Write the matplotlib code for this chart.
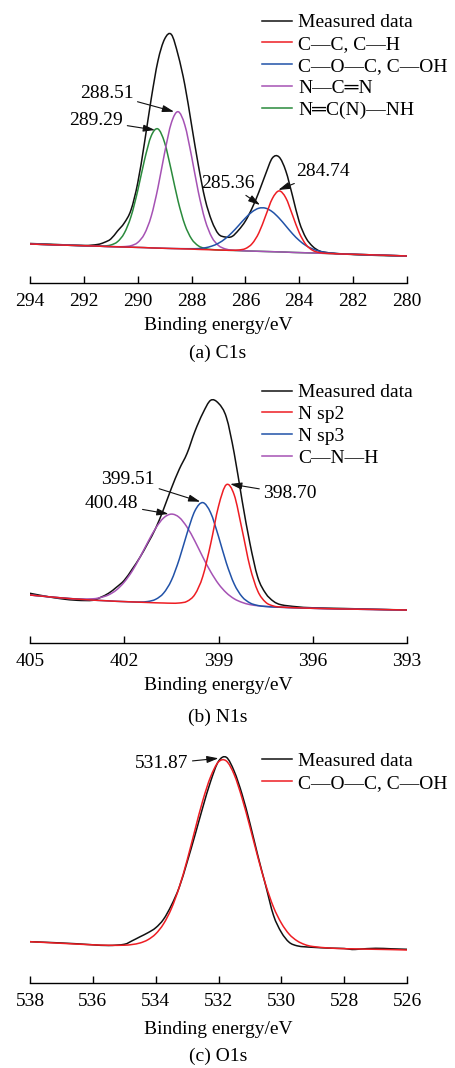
import matplotlib.pyplot as plt
from matplotlib.path import Path
from matplotlib.patches import PathPatch
from matplotlib.lines import Line2D

plt.rcParams['font.family'] = ['Liberation Serif', 'DejaVu Sans']
plt.rcParams['font.size'] = 14

# ---------------- (a) C1s ----------------
c1s_energy = [294, 293, 292, 291.5, 291.25, 291.0, 290.75, 290.5, 290.25, 290.0,
              289.75, 289.5, 289.25, 289.0, 288.75, 288.5, 288.25, 288.0, 287.75, 287.5,
              287.25, 287.0, 286.75, 286.5, 286.25, 286.0, 285.75, 285.5, 285.25, 285.0,
              284.75, 284.5, 284.25, 284.0, 283.75, 283.5, 283.25, 283.0, 282.75, 282.5,
              282.0, 281.0, 280.0]
c1s_measured = [39.5, 38.5, 37.5, 38.5, 40.5, 44, 52, 60, 73, 100,
                140, 184, 222, 244, 248.5, 228, 198, 158, 118, 84,
                62, 49, 46, 46.5, 53, 62, 75, 91, 109, 125,
                126, 112, 87, 61, 45, 36.5, 32, 30.5, 29.8, 29.2,
                28.5, 27.5, 27.0]
c1s_background = [39.0, 38.1, 37.3, 36.9, 36.6, 36.4, 36.2, 36.0, 35.8, 35.6,
                  35.4, 35.1, 34.9, 34.7, 34.5, 34.3, 34.1, 33.9, 33.6, 33.4,
                  33.2, 33.0, 32.8, 32.6, 32.4, 32.1, 31.9, 31.7, 31.5, 31.3,
                  31.1, 30.9, 30.6, 30.4, 30.2, 30.0, 29.8, 29.6, 29.4, 29.1,
                  28.7, 27.9, 27.0]
# fitted components (height above background)
c1s_cc = [0] * 23 + [0.1, 0.6, 2.3, 7.5, 18.5, 35.7, 53.1, 61.0, 54.2, 37.2,
                     19.7, 8.1, 2.6, 0.6, 0.1] + [0] * 5
c1s_coc = [0] * 15 + [0.1, 0.2, 0.4, 0.8, 1.8, 3.7, 6.8, 11.5, 17.8, 25.2,
                      32.9, 39.3, 43.1, 43.3, 39.9, 33.8, 26.2, 18.6, 12.1, 7.2,
                      4.0, 2.0, 0.9, 0.4, 0.2] + [0] * 3
c1s_ncn = [0] * 6 + [0.1, 0.4, 1.5, 4.9, 13.7, 31.5, 60.3, 95.6, 125.7, 137.0,
                     123.8, 92.8, 57.6, 29.7, 12.7, 4.5, 1.3, 0.3] + [0] * 19
c1s_ncnh = [0] * 3 + [0.1, 0.4, 1.6, 5.1, 13.8, 30.6, 56.7, 87.4, 111.9, 119.2,
                      105.6, 77.7, 47.5, 24.2, 10.2, 3.6, 1.1, 0.3] + [0] * 22

# ---------------- (b) N1s ----------------
n1s_energy = [405, 404.5, 404, 403.5, 403.0, 402.75, 402.5, 402.25, 402.0, 401.75,
              401.5, 401.25, 401.0, 400.75, 400.5, 400.25, 400.0, 399.75, 399.5, 399.25,
              399.0, 398.75, 398.5, 398.25, 398.0, 397.75, 397.5, 397.25, 397.0, 396.5,
              396.0, 395.0, 394.0, 393.0]
n1s_measured = [50, 47, 44.5, 43, 43, 46, 50, 56, 63, 74,
                86, 100, 115, 134, 155, 174, 190, 212, 230, 243,
                240, 226, 190, 143, 100, 66, 50, 42, 38.5, 36.5,
                35.5, 34.8, 34.0, 33.3]
n1s_background = [48.3, 46.8, 45.4, 44.2, 43.2, 42.8, 42.4, 42.0, 41.7, 41.4,
                  41.1, 40.8, 40.5, 40.3, 40.0, 39.8, 39.5, 39.3, 39.0, 38.7,
                  38.4, 38.1, 37.8, 37.5, 37.2, 36.9, 36.6, 36.3, 36.0, 35.5,
                  35.0, 34.3, 33.8, 33.3]
n1s_sp2 = [0] * 14 + [0.1, 0.5, 2.5, 9.7, 27.9, 60.6, 98.6, 120.5, 110.6, 76.2,
                      39.4, 15.3, 4.5, 1.0, 0.2] + [0] * 5
n1s_sp3 = [0] * 10 + [0.2, 1.0, 3.5, 9.8, 22.9, 44.2, 70.6, 93.2, 101.7, 91.8,
                      68.5, 42.2, 21.5, 9.1, 3.2, 0.9, 0.2] + [0] * 7
n1s_cnh = [0] * 3 + [0.2, 1.3, 3.0, 6.0, 11.3, 19.5, 30.7, 44.9, 60.3, 74.6,
                     85.0, 89.2, 86.1, 76.6, 62.8, 47.3, 32.9, 21.0, 12.4, 6.7,
                     3.4, 1.5, 0.7, 0.3, 0.1] + [0] * 6

# ---------------- (c) O1s ----------------
o1s_energy = [538, 537.5, 537, 536.5, 536, 535.5, 535.0, 534.75, 534.5, 534.25,
              534.0, 533.75, 533.5, 533.25, 533.0, 532.75, 532.5, 532.25, 532.0, 531.75,
              531.5, 531.25, 531.0, 530.75, 530.5, 530.25, 530.0, 529.75, 529.5, 529.25,
              529.0, 528.5, 528.0, 527.75, 527.5, 527.0, 526.5, 526.0]
o1s_measured = [41.6, 41.0, 40.3, 39.5, 38.5, 37.8, 39.0, 42.5, 46.5, 50.5,
                55.5, 64, 78, 96, 121, 148, 176, 202, 222, 226,
                212, 189, 160, 128, 98, 68, 51, 41, 37.5, 36.5,
                36.0, 35.2, 34.8, 33.8, 34.2, 35.0, 34.5, 34.0]
o1s_background = [41.6, 40.8, 40.0, 39.2, 38.5, 38.0, 37.6, 37.5, 37.4, 37.3,
                  37.2, 37.1, 37.0, 36.9, 36.8, 36.7, 36.6, 36.5, 36.4, 36.3,
                  36.2, 36.1, 36.0, 35.9, 35.8, 35.7, 35.7, 35.6, 35.5, 35.4,
                  35.3, 35.0, 34.6, 34.5, 34.3, 34.0, 33.7, 33.3]
o1s_coc = [0] * 6 + [0.5, 1.3, 2.9, 6.2, 12.2, 22.3, 37.7, 59.2, 86.2, 116.6,
                     146.2, 170.1, 185.0, 186.0, 172.5, 149.0, 120.5, 90.5, 63.0, 40.5,
                     24.5, 13.5, 7.0, 3.3, 1.5, 0.3] + [0] * 6

BLACK = '#111111'
RED = '#ee1d23'
BLUE = '#2152a8'
PURPLE = '#a552b4'
GREEN = '#2a8a3c'
LW = 1.1

W, H = 455, 1068
fig = plt.figure(figsize=(W / 100, H / 100), dpi=100)


def make_axes(axis_y, height, xlim, ticks):
    ax = fig.add_axes([30 / W, 1 - axis_y / H, 377 / W, height / H])
    ax.set_xlim(*xlim)
    ax.set_ylim(0, height)
    for s in ('left', 'top', 'right'):
        ax.spines[s].set_visible(False)
    ax.spines['bottom'].set_linewidth(1.0)
    ax.set_yticks([])
    ax.set_xticks(ticks)
    ax.tick_params(axis='x', direction='in', length=5, width=1.0, labelsize=14, pad=7.2)
    return ax


def smooth_curve(ax, xs, ys, color):
    # smooth drawing through the read points (Catmull-Rom as cubic Bezier)
    pts = list(zip(xs, ys))
    verts = [pts[0]]
    codes = [Path.MOVETO]
    n = len(pts)
    for i in range(n - 1):
        p0 = pts[max(i - 1, 0)]
        p1 = pts[i]
        p2 = pts[i + 1]
        p3 = pts[min(i + 2, n - 1)]
        c1 = (p1[0] + (p2[0] - p0[0]) / 6, p1[1] + (p2[1] - p0[1]) / 6)
        c2 = (p2[0] - (p3[0] - p1[0]) / 6, p2[1] - (p3[1] - p1[1]) / 6)
        verts += [c1, c2, p2]
        codes += [Path.CURVE4] * 3
    ax.add_patch(PathPatch(Path(verts, codes), fill=False, edgecolor=color, lw=LW,
                           capstyle='round', joinstyle='round'))
    return Line2D([], [], color=color, lw=LW)


def add_fit(ax, energy, background, comp, color):
    y = [b + c for b, c in zip(background, comp)]
    return smooth_curve(ax, energy, y, color)


def note(ax, text, tip, pos, ha='right'):
    ax.annotate(text, xy=tip, xytext=pos, ha=ha, va='center', fontsize=14,
                arrowprops=dict(arrowstyle='-|>,head_length=0.5,head_width=0.15',
                                color=BLACK, lw=0.8, shrinkA=1, shrinkB=0))


def legend(ax, handles, labels, top_px):
    ax.legend(handles, labels, loc='upper left',
              bbox_to_anchor=(261.7 / W, 1 - top_px / H), bbox_transform=fig.transFigure,
              frameon=False, borderpad=0, borderaxespad=0, handlelength=1.54,
              handletextpad=0.34, labelspacing=0.22, fontsize=14)


def finish(ax, label_off, caption, caption_y):
    ax.set_xlabel('Binding energy/eV', fontsize=14)
    ax.xaxis.label.set_va('center')
    ax.xaxis.set_label_coords(0.5, -label_off / ax.get_ylim()[1])
    fig.text(218 / W, 1 - caption_y / H, caption, ha='center', va='center', fontsize=14)


# ---- panel (a)
ax = make_axes(283, 273, (294, 280), [294, 292, 290, 288, 286, 284, 282, 280])
l0 = smooth_curve(ax, c1s_energy, c1s_measured, BLACK)
l4 = add_fit(ax, c1s_energy, c1s_background, c1s_ncnh, GREEN)
l3 = add_fit(ax, c1s_energy, c1s_background, c1s_ncn, PURPLE)
l2 = add_fit(ax, c1s_energy, c1s_background, c1s_coc, BLUE)
l1 = add_fit(ax, c1s_energy, c1s_background, c1s_cc, RED)
legend(ax, [l0, l1, l2, l3, l4],
       ['Measured data', 'C—C, C—H', 'C—O—C, C—OH', 'N—C═N', 'N═C(N)—NH'], 13.7)
note(ax, '288.51', (288.65, 171.3), (290.16, 189.7))
note(ax, '289.29', (289.36, 153), (290.54, 162.2))
note(ax, '285.36', (285.46, 78), (285.645, 99.7))
note(ax, '284.74', (284.78, 93), (284.10, 111.3), ha='left')
finish(ax, 42.7, '(a) C1s', 353)

# ---- panel (b)
ax = make_axes(643.3, 273.3, (405, 393), [405, 402, 399, 396, 393])
l0 = smooth_curve(ax, n1s_energy, n1s_measured, BLACK)
l3 = add_fit(ax, n1s_energy, n1s_background, n1s_cnh, PURPLE)
l2 = add_fit(ax, n1s_energy, n1s_background, n1s_sp3, BLUE)
l1 = add_fit(ax, n1s_energy, n1s_background, n1s_sp2, RED)
legend(ax, [l0, l1, l2, l3], ['Measured data', 'N sp2', 'N sp3', 'C—N—H'], 383.7)
note(ax, '399.51', (399.58, 141.6), (401.02, 164.3))
note(ax, '400.48', (400.59, 129.3), (401.55, 139.3))
note(ax, '398.70', (398.63, 159.3), (397.57, 149.3), ha='left')
finish(ax, 42.4, '(b) N1s', 717.5)

# ---- panel (c)
ax = make_axes(983.3, 273.3, (538, 526), [538, 536, 534, 532, 530, 528, 526])
l0 = smooth_curve(ax, o1s_energy, o1s_measured, BLACK)
l1 = add_fit(ax, o1s_energy, o1s_background, o1s_coc, RED)
legend(ax, [l0, l1], ['Measured data', 'C—O—C, C—OH'], 752.3)
note(ax, '531.87', (532.0, 225), (532.96, 219.3))
finish(ax, 45.7, '(c) O1s', 1056)

fig.savefig('out.png', dpi=100)
